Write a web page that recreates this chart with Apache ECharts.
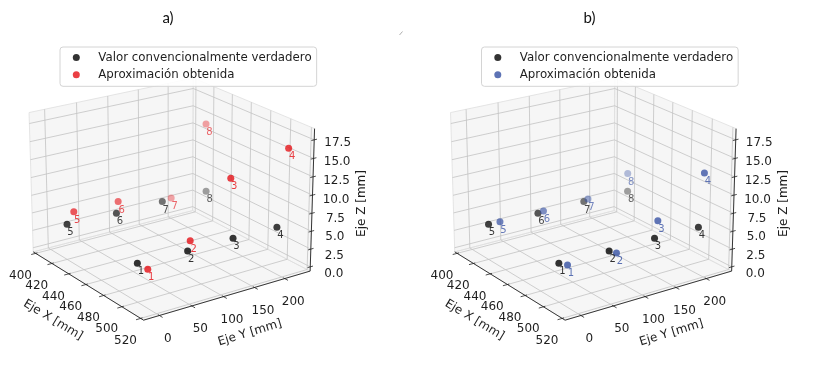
<!DOCTYPE html>
<html><head><meta charset="utf-8">
<script src="https://cdn.jsdelivr.net/npm/echarts@6/dist/echarts.min.js"></script>
<style>html,body{margin:0;padding:0;background:#fff}#c{width:813px;height:370px}</style>
</head><body><div id="c"></div>
<script>
// ---------------- data ----------------
const pointIds = ['1','2','3','4','5','6','7','8'];
// "Valor convencionalmente verdadero" (same in both panels)
const trueX = [500, 500, 500, 500, 420, 420, 420, 420];
const trueY = [0, 78, 151, 224, 1, 80, 156, 231];
const trueZ = [4.7, 4.5, 4.55, 4.4, 4.4, 4.2, 4.2, 4.1];
// "Aproximación obtenida" panel a)
const approxAX = [511, 500, 500, 505, 420, 420, 420, 420];
const approxAY = [0, 82, 146, 232, 12, 83, 171, 230];
const approxAZ = [4.7, 5.8, 12.9, 15.5, 5.9, 5.8, 4.4, 13.9];
// "Aproximación obtenida" panel b)
const approxBX = [505, 505, 500, 500, 420, 420, 420, 420];
const approxBY = [6, 82, 156, 232, 19, 89, 163, 231];
const approxBZ = [4.7, 4.5, 6.85, 11.8, 4.35, 4.3, 4.4, 6.7];

const xTicks = [400, 420, 440, 460, 480, 500, 520];
const xTickLabels = ['400','420','440','460','480','500','520'];
const yTicks = [0, 50, 100, 150, 200];
const yTickLabels = ['0','50','100','150','200'];
const zTicks = [0, 2.5, 5, 7.5, 10, 12.5, 15, 17.5];
const zTickLabels = ['0.0','2.5','5.0','7.5','10.0','12.5','15.0','17.5'];
const xLim = [397, 523];
const yLim = [-24, 243];
const zLim = [-0.6, 19.0];

const seriesNames = ['Valor convencionalmente verdadero', 'Aproximación obtenida'];
const panelTitles = ['a)', 'b)'];
const axisTitles = ['Eje X [mm]', 'Eje Y [mm]', 'Eje Z [mm]'];

// ---------------- styling / layout ----------------
const COL_TRUE = '#000000';
const COL_APPROX = ['#e50f15', '#3550a3'];
const PANE_FILL = 'rgba(238,238,238,0.55)';
const PANE_EDGE = 'rgba(222,222,222,1)';
const GRID_COL = '#c3c3c3';
const AXIS_COL = '#222222';
const FONT = 'DejaVu Sans';

const PANEL_OFFSET = [0, 421.5];
const PX_PER = 1766, PY_PER = 1760, ORIGIN = [169.9, 192];
const XR = [-0.09, 0.11], YR = [-0.1, 0.1];

// ---------------- 3D projection (perspective camera) ----------------
const ELEV = 21, AZIM = -35, DIST = 10;
const ASP = [4, 4, 3].map(v => v * 1.8294640721620434 / Math.sqrt(41));
const el = ELEV * Math.PI / 180, az = AZIM * Math.PI / 180;
const Wv = [Math.cos(el) * Math.cos(az), Math.cos(el) * Math.sin(az), Math.sin(el)];
const Uv = [-Math.sin(az), Math.cos(az), 0];
const Vv = [-Math.sin(el) * Math.cos(az), -Math.sin(el) * Math.sin(az), Math.cos(el)];
function toBox(x, y, z) {
  return [
    (x - xLim[0]) / (xLim[1] - xLim[0]) * ASP[0] - ASP[0] / 2,
    (y - yLim[0]) / (yLim[1] - yLim[0]) * ASP[1] - ASP[1] / 2,
    (z - zLim[0]) / (zLim[1] - zLim[0]) * ASP[2] - ASP[2] / 2
  ];
}
const dot = (a, b) => a[0] * b[0] + a[1] * b[1] + a[2] * b[2];
function camBox(b) {
  const d = DIST - dot(b, Wv);
  return [dot(b, Uv) / d, dot(b, Vv) / d, d];
}
function proj(x, y, z) { return camBox(toBox(x, y, z)); }

function rgba(hex, a) {
  const n = parseInt(hex.slice(1), 16);
  return 'rgba(' + (n >> 16 & 255) + ',' + (n >> 8 & 255) + ',' + (n & 255) + ',' + a.toFixed(3) + ')';
}

function boxRender() {
  return function (params, api) {
    const C = b => { const c = camBox(b); return api.coord([c[0], c[1]]); };
    const D = (x, y, z) => C(toBox(x, y, z));
    const [x0, x1] = xLim, [y0, y1] = yLim, [z0, z1] = zLim;
    const ch = [];
    const line = (a, b, stroke, w) => ch.push({type: 'line', silent: true,
      shape: {x1: a[0], y1: a[1], x2: b[0], y2: b[1]}, style: {stroke: stroke, lineWidth: w}});
    const poly = pts => ch.push({type: 'polygon', silent: true, shape: {points: pts},
      style: {fill: PANE_FILL, stroke: PANE_EDGE, lineWidth: 0.8}});
    const text = (x, y, s, size, rot) => ch.push({type: 'text', silent: true, x: x, y: y, rotation: rot || 0,
      style: {text: s, fontSize: size, fontFamily: FONT, fill: '#1e1e1e', align: 'center', verticalAlign: 'middle'}});

    // panes
    poly([D(x0, y0, z0), D(x1, y0, z0), D(x1, y1, z0), D(x0, y1, z0)]);
    poly([D(x0, y0, z0), D(x0, y1, z0), D(x0, y1, z1), D(x0, y0, z1)]);
    poly([D(x0, y1, z0), D(x1, y1, z0), D(x1, y1, z1), D(x0, y1, z1)]);
    // grid
    xTicks.forEach(x => { line(D(x, y0, z0), D(x, y1, z0), GRID_COL, 0.8); line(D(x, y1, z0), D(x, y1, z1), GRID_COL, 0.8); });
    yTicks.forEach(y => { line(D(x0, y, z0), D(x1, y, z0), GRID_COL, 0.8); line(D(x0, y, z0), D(x0, y, z1), GRID_COL, 0.8); });
    zTicks.forEach(z => { line(D(x0, y0, z), D(x0, y1, z), GRID_COL, 0.8); line(D(x0, y1, z), D(x1, y1, z), GRID_COL, 0.8); });
    // axis lines
    line(D(x0, y0, z0), D(x1, y0, z0), AXIS_COL, 0.9);
    line(D(x1, y0, z0), D(x1, y1, z0), AXIS_COL, 0.9);
    line(D(x1, y1, z0), D(x1, y1, z1), AXIS_COL, 0.9);
    // ticks + labels
    xTicks.forEach((x, i) => {
      const b = toBox(x, y0, z0);
      line(C([b[0], b[1] + 0.012, b[2]]), C([b[0], b[1] - 0.03, b[2]]), AXIS_COL, 0.8);
      const p = D(x, y0, z0);
      text(p[0] - 15.2, p[1] + 22.6, xTickLabels[i], 12);
    });
    yTicks.forEach((y, i) => {
      const b = toBox(x1, y, z0);
      line(C([b[0] - 0.012, b[1], b[2]]), C([b[0] + 0.03, b[1], b[2]]), AXIS_COL, 0.8);
      const p = D(x1, y, z0);
      text(p[0] + 8.5, p[1] + 23, yTickLabels[i], 12);
    });
    zTicks.forEach((z, i) => {
      const b = toBox(x1, y1, z);
      line(C([b[0], b[1] - 0.02, b[2]]), C([b[0], b[1] + 0.02, b[2]]), AXIS_COL, 0.8);
      const p = D(x1, y1, z);
      const t = (z - z0) / (z1 - z0);
      text(p[0] + 23.5, p[1] + 7 - 4 * t, zTickLabels[i], 12);
    });
    // axis titles
    const mx = D((x0 + x1) / 2, y0, z0);
    text(mx[0] - 33, mx[1] + 35.5, axisTitles[0], 12, -31 * Math.PI / 180);
    const my = D(x1, (y0 + y1) / 2, z0);
    text(my[0] + 20.5, my[1] + 38, axisTitles[1], 12, 17 * Math.PI / 180);
    const mz = D(x1, y1, (z0 + z1) / 2);
    text(mz[0] + 50, mz[1] + 2.5, axisTitles[2], 12, Math.PI / 2);
    return {type: 'group', children: ch};
  };
}

function scatterSeries(name, xs, ys, zs, color, gi) {
  const pr = xs.map((x, i) => proj(x, ys[i], zs[i]));
  const ds = pr.map(p => p[2]);
  const mn = Math.min.apply(null, ds), mx = Math.max.apply(null, ds);
  const data = pr.map((p, i) => {
    const n = (p[2] - mn) / ((mx - mn) || 1);
    const a = 1 - 0.55 * n * n * n;
    return {name: pointIds[i], value: [p[0], p[1]],
      itemStyle: {color: rgba(color, a)},
      label: {color: rgba(color, 0.6 + 0.4 * a)}};
  });
  return {type: 'scatter', name: name, xAxisIndex: gi, yAxisIndex: gi, symbol: 'circle', symbolSize: 7,
    itemStyle: {color: color}, silent: true, z: 3, data: data,
    label: {show: true, formatter: '{b}', position: 'inside', offset: [3.5, 8.5], fontSize: 10, fontFamily: FONT},
    emphasis: {disabled: true}};
}

const approxSets = [[approxAX, approxAY, approxAZ], [approxBX, approxBY, approxBZ]];
const series = [];
PANEL_OFFSET.forEach((ox, i) => {
  series.push({type: 'custom', xAxisIndex: i, yAxisIndex: i, coordinateSystem: 'cartesian2d',
    renderItem: boxRender(), data: [[0, 0]], clip: false, silent: true, z: 1});
  series.push(scatterSeries(seriesNames[0], trueX, trueY, trueZ, COL_TRUE, i));
  series.push(scatterSeries(seriesNames[1], approxSets[i][0], approxSets[i][1], approxSets[i][2], COL_APPROX[i], i));
});

const graphics = PANEL_OFFSET.map((ox, i) => ({type: 'text', x: 168 + ox, y: 18, silent: true,
  style: {text: panelTitles[i], fontSize: 15, fontFamily: 'Lato', fill: '#111', align: 'center', verticalAlign: 'middle'}}));
graphics.push({type: 'line', silent: true, shape: {x1: 399.5, y1: 35, x2: 402.5, y2: 31.5}, style: {stroke: '#999', lineWidth: 0.8}});

const option = {
  animation: false,
  backgroundColor: '#ffffff',
  grid: PANEL_OFFSET.map(ox => ({show: false,
    left: ORIGIN[0] + ox + XR[0] * PX_PER, width: (XR[1] - XR[0]) * PX_PER,
    top: ORIGIN[1] - YR[1] * PY_PER, height: (YR[1] - YR[0]) * PY_PER})),
  xAxis: PANEL_OFFSET.map((ox, i) => ({type: 'value', gridIndex: i, min: XR[0], max: XR[1], show: false})),
  yAxis: PANEL_OFFSET.map((ox, i) => ({type: 'value', gridIndex: i, min: YR[0], max: YR[1], show: false})),
  legend: PANEL_OFFSET.map((ox, i) => ({
    left: 60 + ox, top: 47, orient: 'vertical', selectedMode: false,
    data: [{name: seriesNames[0], itemStyle: {color: COL_TRUE}}, {name: seriesNames[1], itemStyle: {color: COL_APPROX[i]}}],
    icon: 'circle', itemWidth: 7, itemHeight: 7, itemGap: 4.3, padding: [4, 5, 5, 12.8],
    textStyle: {fontSize: 11.8, fontFamily: FONT, color: '#1e1e1e', lineHeight: 13, padding: [0, 0, 0, 13.5]},
    backgroundColor: 'rgba(255,255,255,0.88)', borderColor: '#d4d4d4', borderWidth: 1, borderRadius: 3, z: 10
  })),
  graphic: graphics,
  series: series
};
const chart = echarts.init(document.getElementById('c'));
chart.setOption(option);
</script></body></html>
